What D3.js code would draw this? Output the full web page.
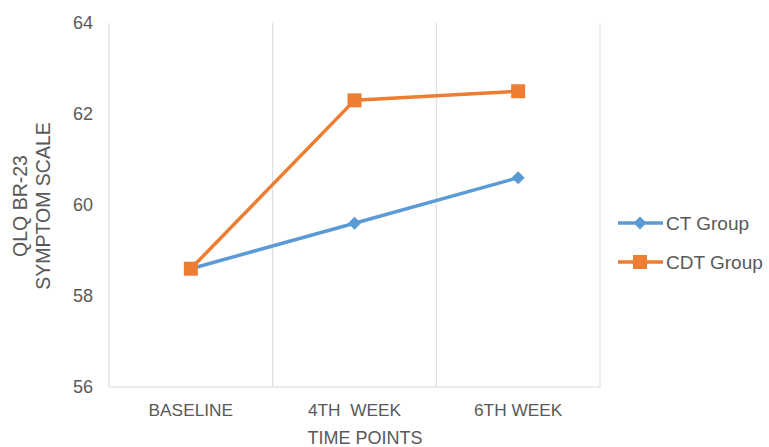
<!DOCTYPE html>
<html>
<head>
<meta charset="utf-8">
<script src="https://cdn.jsdelivr.net/npm/d3@7"></script>
<style>
  body { margin: 0; background: #fff; }
  svg text { font-family: "Liberation Sans", Arial, sans-serif; fill: #595959; white-space: pre; }
</style>
</head>
<body>
<svg id="chart" width="769" height="447"></svg>
<script>
const categories = ["BASELINE", "4TH  WEEK", "6TH WEEK"];
const ctValues  = [58.6, 59.6, 60.6];
const cdtValues = [58.6, 62.3, 62.5];
const yTicks = [56, 58, 60, 62, 64];
const seriesNames = ["CT Group", "CDT Group"];

const colors = { "CT Group": "#5b9bd5", "CDT Group": "#ed7d31" };

const svg = d3.select("#chart");
const plotL = 109, plotR = 600, plotT = 23, plotB = 387;

const x = d3.scaleBand().domain(categories).range([plotL, plotR]);
const y = d3.scaleLinear().domain([56, 64]).range([plotB, plotT]);

// vertical gridlines at category boundaries
const bounds = categories.map(c => x(c)).concat([plotR]);
svg.append("g").selectAll("line")
    .data(bounds)
    .join("line")
    .attr("x1", d => d).attr("x2", d => d)
    .attr("y1", plotT).attr("y2", plotB)
    .attr("stroke", "#d9d9d9").attr("stroke-width", 1);

// x axis line
svg.append("line")
    .attr("x1", plotL).attr("x2", plotR)
    .attr("y1", plotB).attr("y2", plotB)
    .attr("stroke", "#d9d9d9").attr("stroke-width", 1);

// y tick labels
svg.append("g").selectAll("text")
    .data(yTicks)
    .join("text")
    .attr("x", 93)
    .attr("y", d => y(d) + 6)
    .attr("text-anchor", "end")
    .attr("font-size", 18)
    .text(d => d);

// x tick labels
svg.append("g").selectAll("text")
    .data(categories)
    .join("text")
    .attr("x", d => x(d) + x.bandwidth() / 2)
    .attr("y", 415.5)
    .attr("text-anchor", "middle")
    .attr("font-size", 17.3)
    .text(d => d);

// axis titles
svg.append("text")
    .attr("x", 365).attr("y", 443.5)
    .attr("text-anchor", "middle")
    .attr("font-size", 18)
    .text("TIME POINTS");

const yt = svg.append("text")
    .attr("transform", "translate(0,206) rotate(-90)")
    .attr("text-anchor", "middle")
    .attr("font-size", 19.5);
yt.append("tspan").attr("x", 0).attr("y", 27).text("QLQ BR-23");
yt.append("tspan").attr("x", 0).attr("y", 50).text("SYMPTOM SCALE");

const line = d3.line()
    .x((d, i) => x(categories[i]) + x.bandwidth() / 2)
    .y(d => y(d));

function drawMarker(g, name, cx, cy) {
    if (name === "CT Group") {
        g.append("path")
            .attr("d", d3.symbol().type(d3.symbolSquare).size(85)())
            .attr("transform", `translate(${cx},${cy}) rotate(45)`)
            .attr("fill", colors[name]);
    } else {
        g.append("rect")
            .attr("x", cx - 7).attr("y", cy - 7)
            .attr("width", 14).attr("height", 14)
            .attr("fill", colors[name]);
    }
}

const series = [
    { name: "CT Group", values: ctValues },
    { name: "CDT Group", values: cdtValues }
];

series.forEach(s => {
    const g = svg.append("g");
    g.append("path")
        .attr("d", line(s.values))
        .attr("fill", "none")
        .attr("stroke", colors[s.name])
        .attr("stroke-width", 3.5)
        .attr("stroke-linejoin", "round");
    s.values.forEach((v, i) => {
        drawMarker(g, s.name, x(categories[i]) + x.bandwidth() / 2, y(v));
    });
});

// legend
seriesNames.forEach((name, i) => {
    const ly = 223 + i * 39;
    const g = svg.append("g");
    g.append("line")
        .attr("x1", 618).attr("x2", 663)
        .attr("y1", ly).attr("y2", ly)
        .attr("stroke", colors[name]).attr("stroke-width", 3.5);
    drawMarker(g, name, 640, ly);
    g.append("text")
        .attr("x", 666).attr("y", ly + 6.5)
        .attr("font-size", 19)
        .text(name);
});
</script>
</body>
</html>
